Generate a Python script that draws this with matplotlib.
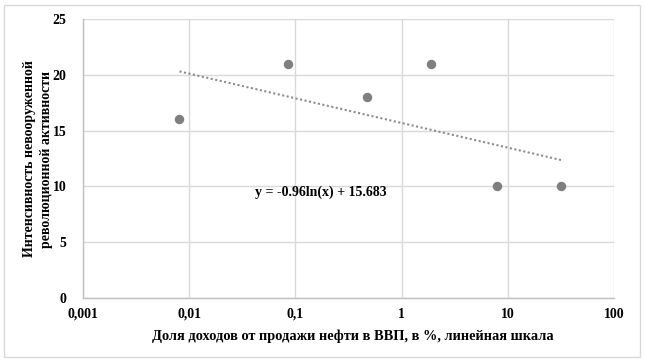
import numpy as np
import matplotlib
matplotlib.use("Agg")
import matplotlib.pyplot as plt
from matplotlib.patches import Rectangle

# Данные
oil_share = [0.0081, 0.085, 0.468, 1.88, 7.9, 31.9]
intensity = [16, 21, 18, 21, 10, 10]

# Логарифмический тренд Excel: y = a*ln(x) + b
trend_a = -0.96
trend_b = 15.683

x_ticks = [0.001, 0.01, 0.1, 1, 10, 100]
x_tick_labels = ["0,001", "0,01", "0,1", "1", "10", "100"]
y_ticks = [0, 5, 10, 15, 20, 25]

plt.rcParams['font.family'] = ['Liberation Serif', 'DejaVu Serif']

fig = plt.figure(figsize=(6.45, 3.62), dpi=100)
ax = fig.add_axes([83 / 645, 1 - 298 / 362, (614 - 83) / 645, (298 - 19) / 362])

# рамка вокруг диаграммы
fig.patches.append(Rectangle((4 / 645, 5 / 362), 636 / 645, 352 / 362,
                             transform=fig.transFigure, fill=False,
                             edgecolor='#d9d9d9', linewidth=1))

ax.set_xscale('log')
ax.set_xlim(0.001, 100)
ax.set_ylim(0, 25)

# линия тренда
xt = np.logspace(np.log10(min(oil_share)), np.log10(max(oil_share)), 100)
ax.plot(xt, trend_a * np.log(xt) + trend_b, color='#8c8c8c', linewidth=1.5,
        linestyle=(0, (1, 1.2)), zorder=2)

ax.plot(oil_share, intensity, 'o', color='#7f7f7f', markersize=5.8, zorder=3)

ax.set_xticks(x_ticks)
ax.set_xticklabels(x_tick_labels)
ax.minorticks_off()
ax.set_yticks(y_ticks)
ax.tick_params(axis='both', length=0, labelsize=10)
ax.tick_params(axis='x', pad=7)
ax.tick_params(axis='y', pad=12)
for lbl in ax.get_xticklabels() + ax.get_yticklabels():
    lbl.set_fontweight('bold')

ax.grid(True, color='#d9d9d9', linewidth=1)
ax.set_axisbelow(True)
for side in ['top', 'right']:
    ax.spines[side].set_visible(False)
for side in ['left', 'bottom']:
    ax.spines[side].set_color('#bfbfbf')
    ax.spines[side].set_linewidth(1)

ax.text(0.175, 9.5, 'y = -0.96ln(x) + 15.683', fontsize=10, fontweight='bold',
        ha='center', va='center')

fig.text(30 / 645, 1 - 159 / 362, 'Интенсивность невооруженной', rotation=90,
         fontsize=10, fontweight='bold', ha='center', va='center')
fig.text(47 / 645, 1 - 159 / 362, 'революционной активности', rotation=90,
         fontsize=10, fontweight='bold', ha='center', va='center')
fig.text(353 / 645, 1 - 336 / 362,
         'Доля доходов от продажи нефти в ВВП, в %, линейная шкала',
         fontsize=10.4, fontweight='bold', ha='center', va='center')

fig.savefig('out.png', dpi=100)
